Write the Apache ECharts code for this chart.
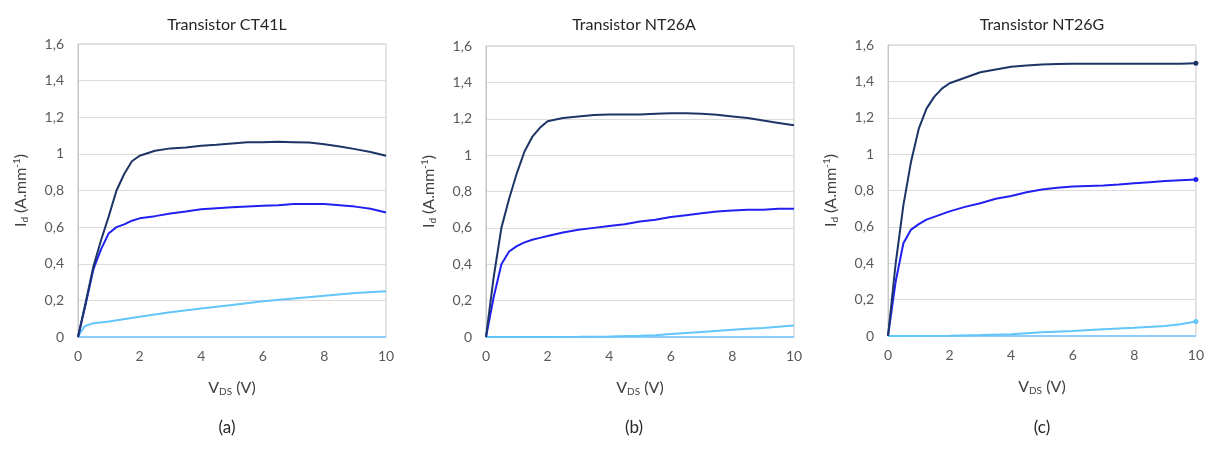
<!DOCTYPE html>
<html><head><meta charset="utf-8">
<script src="https://cdn.jsdelivr.net/npm/echarts@6/dist/echarts.min.js"></script>
<style>html,body{margin:0;padding:0;background:#fff}#c{width:1207px;height:449px}</style>
</head><body><div id="c"></div>
<script>
// Shared V_DS sample points (V)
const vdsMain = [0,0.25,0.5,0.75,1,1.25,1.5,1.75,2,2.5,3,3.5,4,4.5,5,5.5,6,6.5,7,7.5,8,8.5,9,9.5,10];
const vdsZero = [0,10];
const idZero = [0,0];

// Panel (a) Transistor CT41L
const idA_high = [0,0.19,0.385,0.53,0.66,0.8,0.89,0.96,0.99,1.017,1.03,1.035,1.045,1.05,1.057,1.063,1.063,1.066,1.064,1.062,1.053,1.04,1.026,1.01,0.99];
const idA_mid  = [0,0.18,0.37,0.48,0.567,0.6,0.615,0.635,0.648,0.66,0.675,0.685,0.697,0.703,0.708,0.713,0.717,0.72,0.726,0.726,0.726,0.72,0.712,0.7,0.68];
const vdsA_low = [0,0.1,0.2,0.3,0.5,1,2,3,4,5,6,7,8,9,10];
const idA_low  = [0,0.03,0.055,0.065,0.075,0.085,0.11,0.135,0.155,0.175,0.195,0.21,0.225,0.24,0.25];

// Panel (b) Transistor NT26A
const idB_high = [0,0.33,0.6,0.76,0.9,1.02,1.1,1.15,1.186,1.204,1.213,1.22,1.224,1.224,1.224,1.228,1.23,1.23,1.228,1.222,1.213,1.204,1.19,1.177,1.164];
const idB_mid  = [0,0.22,0.4,0.47,0.5,0.52,0.535,0.545,0.555,0.575,0.59,0.6,0.61,0.62,0.635,0.645,0.66,0.67,0.68,0.69,0.695,0.7,0.7,0.705,0.705];
const vdsB_low = [0,2,3,4,5,5.5,6,7,8,8.5,9,10];
const idB_low  = [0,0,0.001,0.003,0.007,0.01,0.016,0.028,0.04,0.045,0.05,0.063];

// Panel (c) Transistor NT26G
const idC_high = [0,0.4,0.72,0.96,1.14,1.25,1.315,1.36,1.39,1.42,1.45,1.465,1.48,1.487,1.493,1.495,1.497,1.497,1.497,1.497,1.497,1.497,1.497,1.497,1.5];
const idC_mid  = [0,0.3,0.51,0.585,0.615,0.64,0.655,0.67,0.685,0.71,0.73,0.755,0.77,0.79,0.805,0.815,0.822,0.825,0.827,0.833,0.84,0.846,0.852,0.856,0.86];
const vdsC_low = [0,2,3,4,5,6,7,8,9,9.5,10];
const idC_low  = [0,0.002,0.005,0.01,0.02,0.028,0.037,0.045,0.055,0.065,0.08];

const titles = ['Transistor CT41L','Transistor NT26A','Transistor NT26G'];
const panelLabels = ['(a)','(b)','(c)'];
const xTicks = {min:0,max:10,interval:2};
const yTicks = {min:0,max:1.6,interval:0.2};

const panels = [
  {high:[vdsMain,idA_high], mid:[vdsMain,idA_mid], low:[vdsA_low,idA_low], endMark:false},
  {high:[vdsMain,idB_high], mid:[vdsMain,idB_mid], low:[vdsB_low,idB_low], endMark:false},
  {high:[vdsMain,idC_high], mid:[vdsMain,idC_mid], low:[vdsC_low,idC_low], endMark:true}
];

const layout = [
  {left:78, top:44, width:308, height:293, cx:222},
  {left:486, top:46, width:308, height:291, cx:629},
  {left:888, top:45, width:308, height:291, cx:1037}
];
const colors = {high:'#1c3566', mid:'#2020f0', low:'#62c6fb', zero:'#8cccff'};
const FONT = 'Lato, "Open Sans", sans-serif';
const fmt = v => String(+(+v).toFixed(1)).replace('.', ',');
const pairs = (xs, ys) => xs.map((x,i)=>[x, ys[i]]);
const richName = {
  m:{fontSize:16, fontFamily:FONT, color:'#404040', verticalAlign:'middle', lineHeight:18},
  s:{fontSize:10, fontFamily:FONT, color:'#404040', verticalAlign:'bottom', lineHeight:10},
  p:{fontSize:10, fontFamily:FONT, color:'#404040', verticalAlign:'top', lineHeight:10}
};

const grids=[], xAxes=[], yAxes=[], series=[], title=[];
layout.forEach((g,i)=>{
  grids.push({left:g.left, top:g.top, width:g.width, height:g.height, show:true, borderColor:'#c6c6c6', borderWidth:1, backgroundColor:'transparent'});
  xAxes.push({type:'value', gridIndex:i, min:xTicks.min, max:xTicks.max, interval:xTicks.interval,
    axisLine:{show:true, onZero:false, lineStyle:{color:'#c6c6c6'}}, axisTick:{show:false}, splitLine:{show:false},
    axisLabel:{color:'#595959', fontSize:14, fontFamily:FONT, margin:12},
    name:'{m|V}{s|DS}{m| (V)}', nameLocation:'middle', nameGap:42,
    nameTextStyle:{rich:richName}});
  yAxes.push({type:'value', gridIndex:i, min:yTicks.min, max:yTicks.max, interval:yTicks.interval,
    axisLine:{show:true, lineStyle:{color:'#c6c6c6'}}, axisTick:{show:false},
    splitLine:{show:true, lineStyle:{color:'#dcdcdc', width:1}},
    axisLabel:{color:'#595959', fontSize:14, fontFamily:FONT, margin:14, formatter:fmt},
    name:'{m|I}{s|d}{m| (A.mm}{p|-1}{m|)}', nameLocation:'middle', nameRotate:90, nameGap:48,
    nameTextStyle:{rich:richName}});
  title.push({text:titles[i], left:g.cx, top:12, textAlign:'center',
    textStyle:{fontSize:16, fontWeight:'normal', color:'#262626', fontFamily:FONT}});
  title.push({text:panelLabels[i], left:g.cx, top:414, textAlign:'center',
    textStyle:{fontSize:17, fontWeight:'normal', color:'#262626', fontFamily:FONT}});
  const p = panels[i];
  const mk = (key, data, color, w, mark) => ({
    type:'line', xAxisIndex:i, yAxisIndex:i, data:pairs(data[0], data[1]), smooth:false,
    lineStyle:{color, width:w}, itemStyle:{color},
    symbol:'circle', showSymbol:mark, symbolSize:(v,pr)=> (mark && pr.dataIndex===data[0].length-1) ? 5 : 0,
    silent:true, animation:false, z: key==='zero'?1:2
  });
  series.push(mk('zero',[vdsZero,idZero],colors.zero,2,false));
  series.push(mk('low',p.low,colors.low,2,p.endMark));
  series.push(mk('mid',p.mid,colors.mid,2,p.endMark));
  series.push(mk('high',p.high,colors.high,2,p.endMark));
});

const chart = echarts.init(document.getElementById('c'), null, {renderer:'canvas'});
chart.setOption({animation:false, backgroundColor:'#fff', title, grid:grids, xAxis:xAxes, yAxis:yAxes, series});
</script></body></html>
